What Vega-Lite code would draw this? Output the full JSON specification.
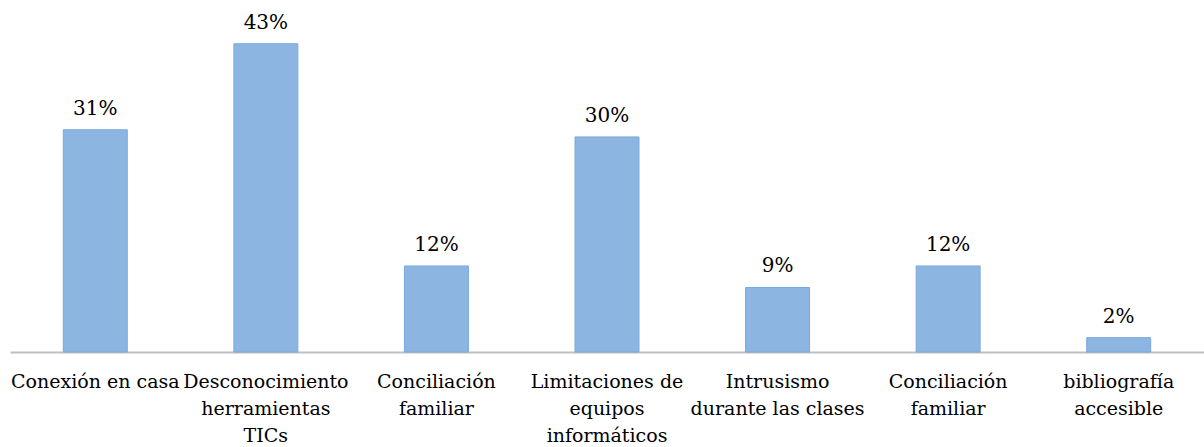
{
  "$schema": "https://vega.github.io/schema/vega-lite/v6.json",
  "width": 1194,
  "height": 352,
  "autosize": "none",
  "padding": {"left": 10, "top": 0, "right": 0, "bottom": 95},
  "background": "white",
  "config": {"view": {"stroke": null}, "font": "DejaVu Serif"},
  "data": {
    "values": [
      {"cat": "Conexión en casa", "pct": 31, "label": "31%"},
      {"cat": "Desconocimiento|herramientas|TICs", "pct": 43, "label": "43%"},
      {"cat": "Conciliación|familiar", "pct": 12, "label": "12%"},
      {"cat": "Limitaciones de|equipos|informáticos", "pct": 30, "label": "30%"},
      {"cat": "Intrusismo|durante las clases", "pct": 9, "label": "9%"},
      {"cat": "Conciliación|familiar ", "pct": 12, "label": "12%"},
      {"cat": "bibliografía|accesible", "pct": 2, "label": "2%"}
    ]
  },
  "encoding": {
    "x": {
      "field": "cat",
      "type": "nominal",
      "sort": null,
      "scale": {"paddingInner": 0.625, "paddingOuter": 0.3125},
      "axis": {
        "title": null,
        "labelAngle": 0,
        "labelExpr": "split(datum.label, '|')",
        "labelFont": "DejaVu Serif",
        "labelFontSize": 19,
        "labelColor": "#000000",
        "labelLineHeight": 27,
        "labelPadding": 20,
        "labelLimit": 0,
        "ticks": false,
        "domainColor": "#bfbfbf",
        "domainWidth": 2
      }
    },
    "y": {
      "field": "pct",
      "type": "quantitative",
      "scale": {"domain": [0, 49.1], "nice": false},
      "axis": null
    }
  },
  "layer": [
    {
      "mark": {"type": "bar", "fill": "#8db5e2", "stroke": "#7aa8dc", "strokeWidth": 1}
    },
    {
      "mark": {"type": "text", "baseline": "alphabetic", "dy": -15, "fontSize": 20, "font": "DejaVu Serif", "color": "#000000"},
      "encoding": {"text": {"field": "label"}}
    }
  ]
}
